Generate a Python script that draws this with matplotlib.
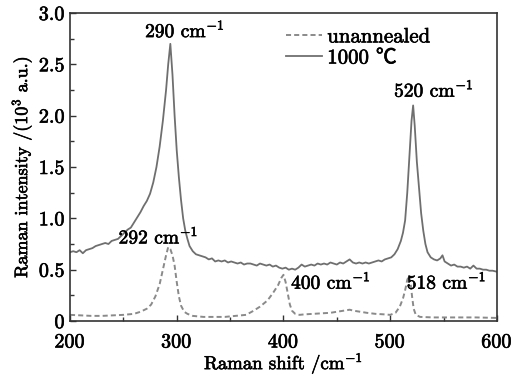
import numpy as np
import matplotlib
matplotlib.use('Agg')
import matplotlib.pyplot as plt
import matplotlib.patheffects as pe
from matplotlib.ticker import MultipleLocator

plt.rcParams['font.family'] = ['cmr10', 'Noto Sans CJK SC', 'DejaVu Serif']
plt.rcParams['mathtext.fontset'] = 'cm'
plt.rcParams['axes.formatter.use_mathtext'] = True

# Raman spectrum after 1000 C anneal (solid)
shift_1000 = [200, 203, 206, 209, 212, 215, 218, 221, 224, 227, 230, 233, 236, 239, 242,
              245, 248, 251, 254, 257, 260, 263, 266, 269, 272, 275, 278, 281, 284, 287,
              290, 292, 294, 296, 298, 300, 302, 304, 306, 308, 310, 312, 315, 318, 321,
              324, 327, 330, 333, 336, 339, 342, 345, 348, 351, 354, 357, 360, 363, 366,
              369, 372, 375, 378, 381, 384, 387, 390, 393, 396, 399, 402, 405, 408, 411,
              414, 417, 420, 423, 426, 429, 432, 435, 438, 441, 444, 447, 450, 453, 456,
              459, 462, 465, 468, 471, 474, 477, 480, 483, 486, 489, 492, 495, 498, 501,
              504, 507, 510, 512, 514, 516, 518, 520, 521.5, 523, 525, 527, 529, 531, 533,
              535, 538, 541, 544, 547, 549, 551, 554, 557, 560, 563, 566, 569, 572, 575,
              578, 581, 584, 587, 590, 593, 596, 600]
int_1000 = [0.67, 0.68, 0.67, 0.69, 0.66, 0.69, 0.70, 0.71, 0.73, 0.74, 0.75, 0.76, 0.75, 0.78, 0.79,
            0.80, 0.83, 0.86, 0.89, 0.91, 0.96, 1.01, 1.06, 1.12, 1.17, 1.24, 1.35, 1.50, 1.70, 1.95,
            2.25, 2.50, 2.70, 2.40, 2.00, 1.66, 1.40, 1.18, 1.00, 0.88, 0.80, 0.73, 0.68, 0.65, 0.64,
            0.63, 0.62, 0.60, 0.61, 0.58, 0.59, 0.58, 0.59, 0.57, 0.58, 0.57, 0.56, 0.57, 0.55, 0.56,
            0.56, 0.55, 0.54, 0.56, 0.55, 0.54, 0.55, 0.53, 0.54, 0.52, 0.51, 0.52, 0.50, 0.51, 0.50,
            0.52, 0.55, 0.53, 0.54, 0.55, 0.54, 0.56, 0.55, 0.56, 0.55, 0.57, 0.56, 0.55, 0.57, 0.56,
            0.58, 0.60, 0.57, 0.56, 0.57, 0.56, 0.57, 0.56, 0.57, 0.58, 0.59, 0.58, 0.60, 0.61, 0.62,
            0.65, 0.70, 0.78, 0.86, 0.98, 1.25, 1.60, 1.95, 2.10, 1.90, 1.55, 1.30, 1.05, 0.88, 0.75,
            0.67, 0.62, 0.60, 0.59, 0.61, 0.64, 0.58, 0.56, 0.54, 0.55, 0.53, 0.53, 0.52, 0.53, 0.51,
            0.54, 0.51, 0.51, 0.50, 0.50, 0.49, 0.49, 0.48]

# unannealed sample (dashed)
shift_raw = [200, 210, 220, 230, 240, 250, 260, 266, 272, 276, 280, 284, 287, 290, 292,
             294, 296, 298, 300, 302, 304, 307, 310, 315, 325, 335, 345, 355, 365, 372,
             378, 385, 390, 395, 398, 400, 402, 404, 406, 408, 411, 415, 420, 428, 436,
             444, 450, 456, 462, 466, 472, 478, 486, 494, 500, 505, 509, 512, 514, 516,
             517.5, 519, 520.5, 522, 524, 528, 540, 560, 580, 600]
int_raw = [0.06, 0.055, 0.05, 0.05, 0.055, 0.06, 0.07, 0.09, 0.12, 0.16, 0.24, 0.36, 0.50, 0.64, 0.72,
           0.70, 0.64, 0.54, 0.38, 0.24, 0.15, 0.09, 0.07, 0.05, 0.04, 0.04, 0.04, 0.05, 0.06, 0.10,
           0.14, 0.20, 0.27, 0.35, 0.42, 0.45, 0.38, 0.27, 0.16, 0.10, 0.07, 0.06, 0.065, 0.07, 0.075,
           0.08, 0.09, 0.10, 0.11, 0.10, 0.09, 0.08, 0.07, 0.065, 0.06, 0.08, 0.14, 0.22, 0.30, 0.40,
           0.44, 0.38, 0.24, 0.12, 0.06, 0.04, 0.035, 0.035, 0.035, 0.03]

peak_labels = ['290 cm$^{-1}$', '520 cm$^{-1}$', '292 cm$^{-1}$', '400 cm$^{-1}$', '518 cm$^{-1}$']
label_pos = [(307.7, 2.83), (541, 2.25), (282.9, 0.82), (444.5, 0.38), (552.9, 0.38)]

xticks = [200, 300, 400, 500, 600]
yticks = [0, 0.5, 1.0, 1.5, 2.0, 2.5, 3.0]
ytick_labels = ['0', '0.5', '1.0', '1.5', '2.0', '2.5', '3.0']

line_col = '#6f6f6f'
bold = [pe.withStroke(linewidth=0.45, foreground='black')]

fig = plt.figure(figsize=(5.16, 3.77), dpi=100)
ax = fig.add_axes([0.1357, 0.1485, 0.963 - 0.1357, 0.9655 - 0.1485])

ax.plot(shift_raw, int_raw, color='#8a8a8a', lw=1.4, dashes=(2.6, 1.6), label='unannealed')
ax.plot(shift_1000, int_1000, color=line_col, lw=1.3, label='1000 ℃')

for txt, (px, py) in zip(peak_labels, label_pos):
    ax.text(px, py, txt, ha='center', va='center', fontsize=14, path_effects=bold)

ax.set_xlim(200, 600)
ax.set_ylim(0, 3.0)
ax.set_xticks(xticks)
ax.set_yticks(yticks)
ax.set_yticklabels(ytick_labels)
ax.xaxis.set_minor_locator(MultipleLocator(50))
ax.yaxis.set_minor_locator(MultipleLocator(0.25))
ax.tick_params(which='both', direction='in', colors='#333333', labelcolor='black', labelsize=14.5)
ax.tick_params(which='major', length=4, width=1)
ax.tick_params(which='minor', length=3, width=1)
ax.tick_params(axis='x', pad=9)
ax.tick_params(axis='y', pad=4)
for sp in ax.spines.values():
    sp.set_color('#333333')
    sp.set_linewidth(1.2)

ax.set_xlabel('Raman shift /cm$^{-1}$', fontsize=13.5, labelpad=-1, path_effects=bold)
ax.set_ylabel('Raman intensity /(10$^3$ a.u.)', fontsize=13, labelpad=3, path_effects=bold)
for lab in ax.get_xticklabels() + ax.get_yticklabels():
    lab.set_path_effects(bold)

leg = ax.legend(loc='upper left', bbox_to_anchor=(0.505, 0.952), frameon=False, fontsize=15,
                handlelength=1.75, handletextpad=0.25, labelspacing=0.12, borderaxespad=0, borderpad=0)
for t in leg.get_texts():
    t.set_path_effects(bold)

fig.savefig('out.png', dpi=100)
